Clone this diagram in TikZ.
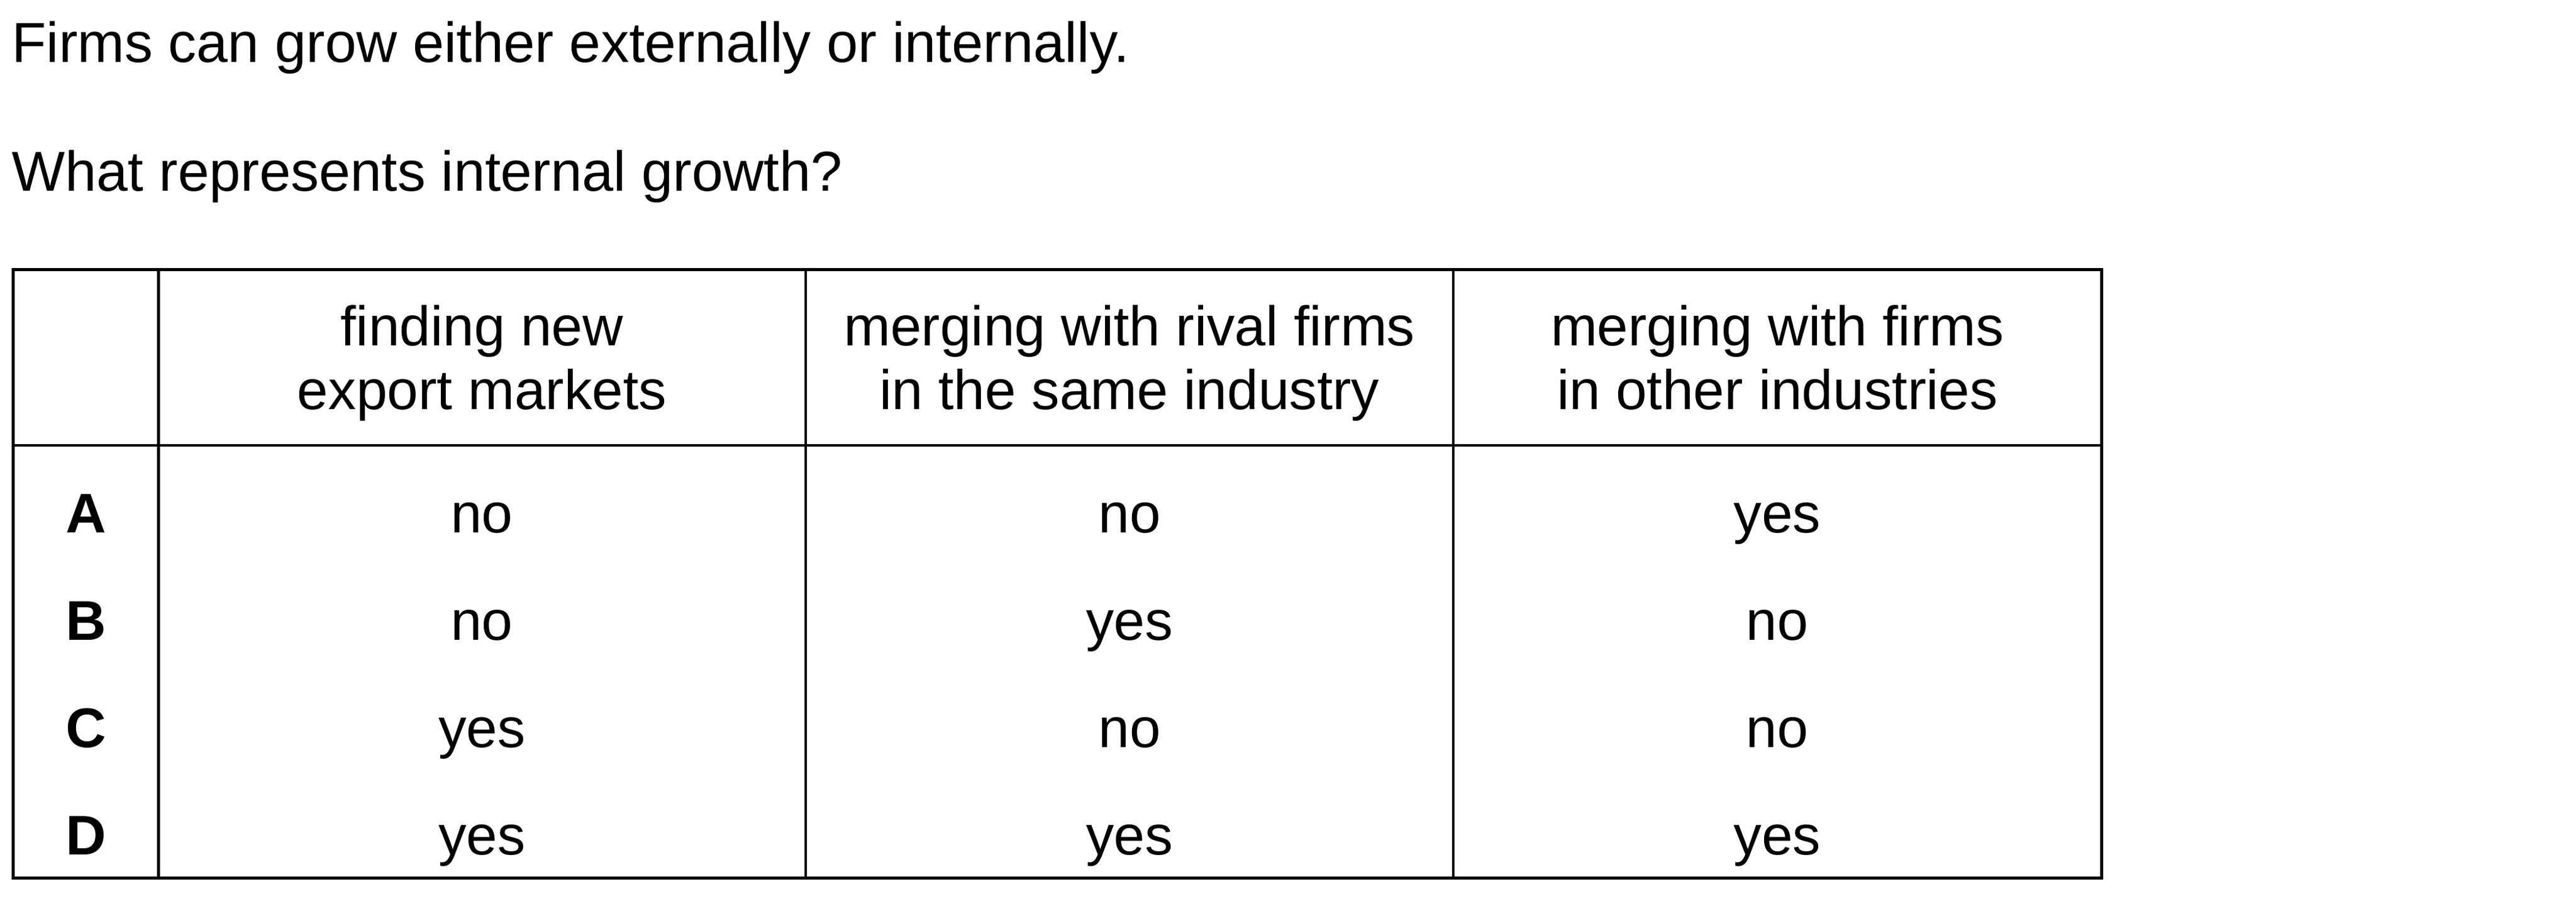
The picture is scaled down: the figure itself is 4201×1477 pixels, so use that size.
\documentclass[tikz,border=0pt]{standalone}
\usepackage{fontspec}
\setmainfont{Liberation Sans}
\begin{document}
\begin{tikzpicture}[x=0.01cm,y=-0.01cm,
  txt/.style={inner sep=0pt,outer sep=0pt,anchor=base,font=\fontsize{25.9pt}{29.9pt}\selectfont},
  ltxt/.style={txt,anchor=base west,font=\fontsize{26.15pt}{30pt}\selectfont},
  btxt/.style={txt,font=\fontsize{25.9pt}{29.9pt}\selectfont\bfseries},
  grid/.style={line width=1.34pt,line cap=rect}]
\useasboundingbox (0,0) rectangle (4201,1477);
\node[ltxt] (t1) at (19.5,101.5) {Firms can grow either externally or internally.};
\node[ltxt] (t2) at (19.5,312) {What represents internal growth?};
% table lines
\draw[grid] (21.3,439.3) rectangle (3427.3,1431.3);
\draw[grid] (21.3,726) -- (3427.3,726);
\foreach \x in {258.3,1314,2370} \draw[grid] (\x,439.3) -- (\x,1431.3);
% header
\node[txt] (h1a) at (786,564) {finding new};
\node[txt] (h1b) at (786,668) {export markets};
\node[txt] (h2a) at (1842,564) {merging with rival firms};
\node[txt] (h2b) at (1842,668) {in the same industry};
\node[txt] (h3a) at (2898.5,564) {merging with firms};
\node[txt] (h3b) at (2898.5,668) {in other industries};
% rows
\node[btxt] (rA) at (140,869) {A};
\node[btxt] (rB) at (140,1044) {B};
\node[btxt] (rC) at (140,1219) {C};
\node[btxt] (rD) at (140,1394) {D};
\node[txt] (a1) at (786,869) {no};
\node[txt] (a2) at (1842,869) {no};
\node[txt] (a3) at (2898.5,869) {yes};
\node[txt] (b1) at (786,1044) {no};
\node[txt] (b2) at (1842,1044) {yes};
\node[txt] (b3) at (2898.5,1044) {no};
\node[txt] (c1) at (786,1219) {yes};
\node[txt] (c2) at (1842,1219) {no};
\node[txt] (c3) at (2898.5,1219) {no};
\node[txt] (d1) at (786,1394) {yes};
\node[txt] (d2) at (1842,1394) {yes};
\node[txt] (d3) at (2898.5,1394) {yes};
\end{tikzpicture}
\end{document}
